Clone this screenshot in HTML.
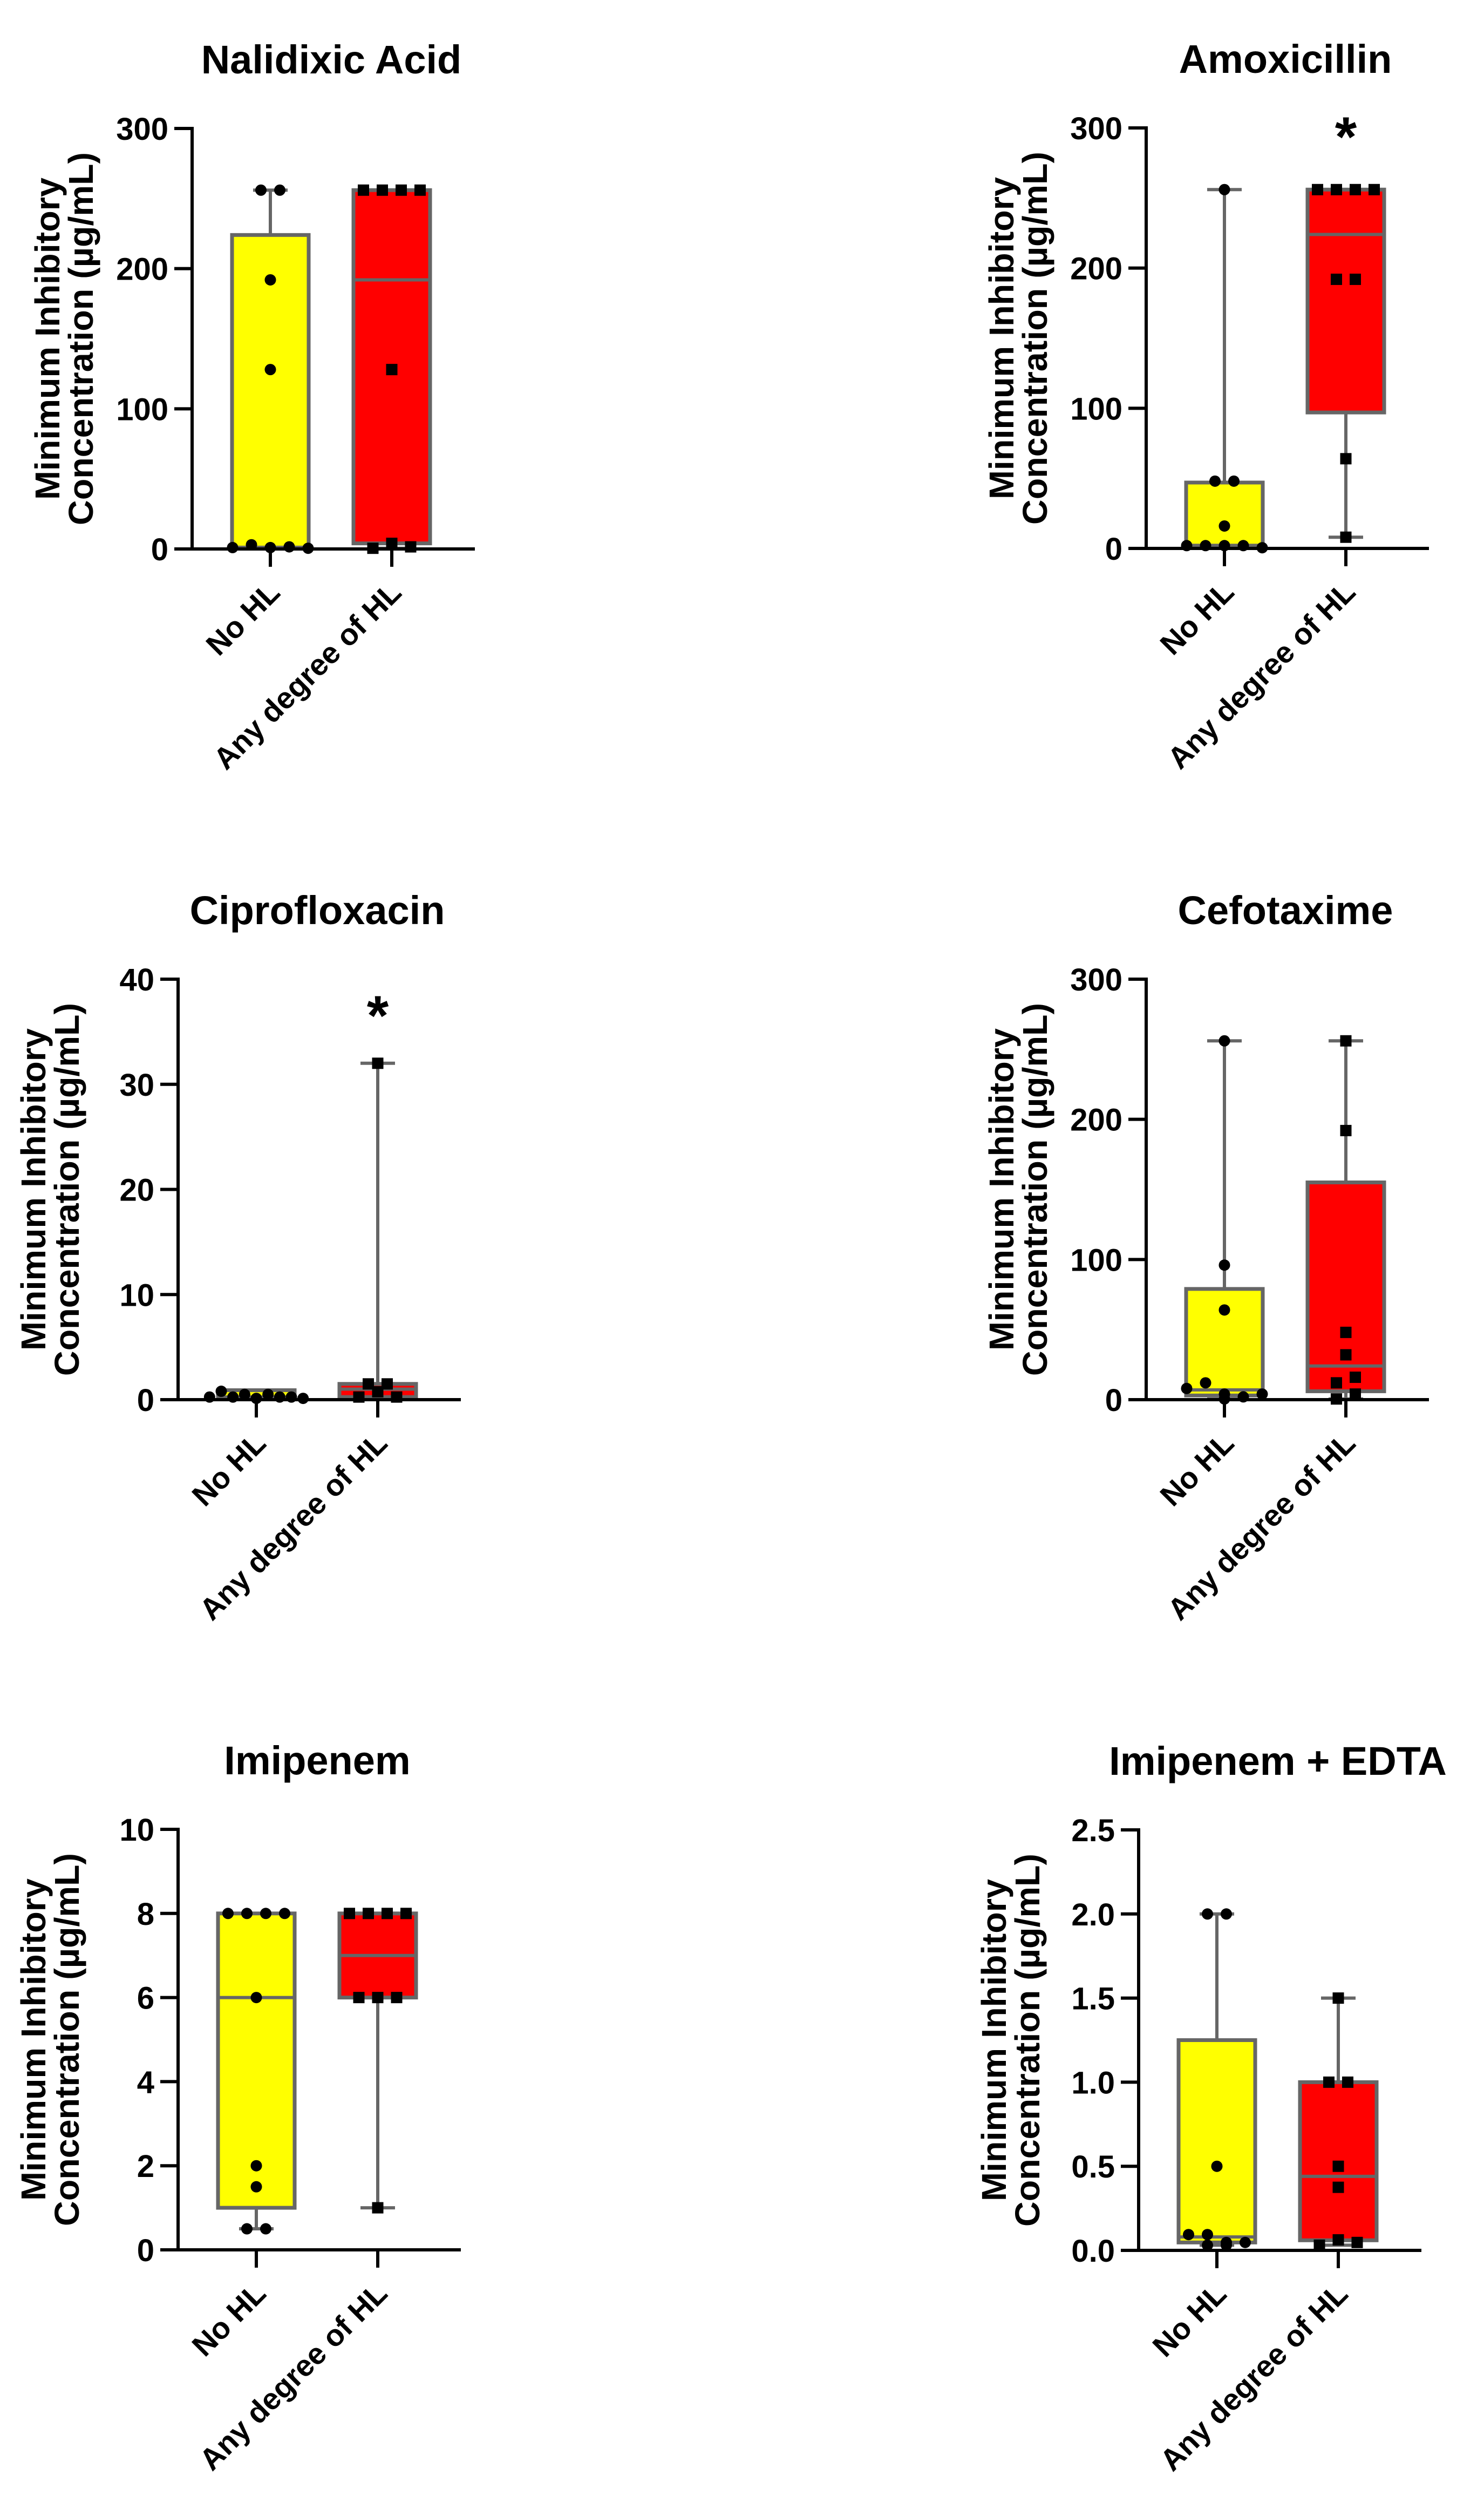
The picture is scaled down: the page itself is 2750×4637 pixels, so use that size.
<!DOCTYPE html>
<html><head><meta charset="utf-8"><style>
html,body{margin:0;padding:0;background:#fff;}
svg{display:block;font-family:"Liberation Sans",Arial,sans-serif;font-weight:bold;}
</style></head><body>
<svg id="fig" width="2750" height="4637" viewBox="0 0 2750 4637" xmlns="http://www.w3.org/2000/svg"></svg>
<script>
// ---- data ----
const categories = ["No HL", "Any degree of HL"];

const nalTicks = [0, 100, 200, 300];
const nalNoHL = [256, 256, 192, 128, 1, 3, 1, 1.5, 0.5];
const nalAnyHL = [256, 256, 256, 256, 128, 0.5, 4, 1.5];
const nalBoxNoHL = [0.5, 1, 1, 224, 256];   // min, q1, median, q3, max
const nalBoxAnyHL = [0.5, 4, 192, 256, 256];

const amoTicks = [0, 100, 200, 300];
const amoNoHL = [256, 48, 48, 16, 2, 2, 2, 2, 0.5];
const amoAnyHL = [256, 256, 256, 256, 192, 192, 64, 8];
const amoBoxNoHL = [0.5, 2, 2, 47, 256];
const amoBoxAnyHL = [8, 97, 224, 256, 256];

const ciproTicks = [0, 10, 20, 30, 40];
const ciproNoHL = [0.25, 0.8, 0.25, 0.5, 0.125, 0.5, 0.25, 0.25, 0.125];
const ciproAnyHL = [32, 0.25, 0.75, 1.5, 1.5, 0.25];
const ciproBoxNoHL = [0.125, 0.2, 0.25, 0.9, 0.8];
const ciproBoxAnyHL = [0.25, 0.25, 1, 1.5, 32];

const cefTicks = [0, 100, 200, 300];
const cefNoHL = [256, 96, 64, 8, 12, 0.5, 4, 2, 4];
const cefAnyHL = [256, 192, 48, 32, 12, 16, 0.5, 4];
const cefBoxNoHL = [0.5, 3, 7, 79, 256];
const cefBoxAnyHL = [0.5, 6, 24, 155, 256];

const imiTicks = [0, 2, 4, 6, 8, 10];
const imiNoHL = [8, 8, 8, 8, 6, 2, 1.5, 0.5, 0.5];
const imiAnyHL = [8, 8, 8, 8, 6, 6, 6, 1];
const imiBoxNoHL = [0.5, 1, 6, 8, 8];
const imiBoxAnyHL = [1, 6, 7, 8, 8];

const edtaTicks = [0, 0.5, 1.0, 1.5, 2.0, 2.5];
const edtaTickLabels = ["0.0", "0.5", "1.0", "1.5", "2.0", "2.5"];
const edtaNoHL = [2, 2, 0.5, 0.094, 0.094, 0.031, 0.047, 0.031, 0.047];
const edtaAnyHL = [1.5, 1, 1, 0.5, 0.375, 0.031, 0.0625, 0.047];
const edtaBoxNoHL = [0.031, 0.047, 0.08, 1.25, 2];
const edtaBoxAnyHL = [0.031, 0.06, 0.44, 1.0, 1.5];

const panels = [
  {id:"nalidixic-acid", title:"Nalidixic Acid", ax:356, top:238, ymax:300, ticks:nalTicks, labels:null, a:nalNoHL, b:nalAnyHL, ba:nalBoxNoHL, bb:nalBoxAnyHL, star:null},
  {id:"amoxicillin", title:"Amoxicillin", ax:2124, top:237, ymax:300, ticks:amoTicks, labels:null, a:amoNoHL, b:amoAnyHL, ba:amoBoxNoHL, bb:amoBoxAnyHL, star:303},
  {id:"ciprofloxacin", title:"Ciprofloxacin", ax:330, top:1814, ymax:40, ticks:ciproTicks, labels:null, a:ciproNoHL, b:ciproAnyHL, ba:ciproBoxNoHL, bb:ciproBoxAnyHL, star:37.8},
  {id:"cefotaxime", title:"Cefotaxime", ax:2124, top:1814, ymax:300, ticks:cefTicks, labels:null, a:cefNoHL, b:cefAnyHL, ba:cefBoxNoHL, bb:cefBoxAnyHL, star:null},
  {id:"imipenem", title:"Imipenem", ax:330, top:3389, ymax:10, ticks:imiTicks, labels:null, a:imiNoHL, b:imiAnyHL, ba:imiBoxNoHL, bb:imiBoxAnyHL, star:null},
  {id:"imipenem-edta", title:"Imipenem + EDTA", ax:2110, top:3390, ymax:2.5, ticks:edtaTicks, labels:edtaTickLabels, a:edtaNoHL, b:edtaAnyHL, ba:edtaBoxNoHL, bb:edtaBoxAnyHL, star:null}
];

// ---- drawing ----
const NS = "http://www.w3.org/2000/svg";
const svg = document.getElementById("fig");
function mk(tag, attrs, parent) {
  const e = document.createElementNS(NS, tag);
  for (const k in attrs) e.setAttribute(k, attrs[k]);
  (parent || svg).appendChild(e);
  return e;
}
const H = 779, W = 524, GREY = "#666666";

panels.forEach(function(p) {
  const g = mk("g", {});
  
  
  const y0 = p.top + H;
  const yS = function(v){ return y0 - v / p.ymax * H; };
  const cx = [p.ax + 145, p.ax + 370];

  const t = mk("text", {x:p.ax + 258, y:p.top - 102, "text-anchor":"middle", "font-size":74}, g);
  t.textContent = p.title;
  
  

  // y title
  const yt = mk("g", {}, g);
  
  
  const cy = p.top + H / 2;
  const l1 = mk("text", {x:p.ax - 246, y:cy, "text-anchor":"middle", "font-size":64, textLength:597, lengthAdjust:"spacingAndGlyphs", transform:"rotate(-90 " + (p.ax - 246) + " " + cy + ")"}, yt);
  l1.textContent = "Minimum Inhibitory";
  const l2 = mk("text", {x:p.ax - 184, y:cy, "text-anchor":"middle", "font-size":64, textLength:691, lengthAdjust:"spacingAndGlyphs", transform:"rotate(-90 " + (p.ax - 184) + " " + cy + ")"}, yt);
  l2.textContent = "Concentration (\u00b5g/mL)";

  // boxes
  [[p.ba, "#ffff00", p.a, "no-hl"], [p.bb, "#ff0000", p.b, "any-hl"]].forEach(function(s, i) {
    const bx = s[0], x = cx[i];
    const wg = mk("g", {}, g);
    
    
    mk("line", {x1:x, x2:x, y1:yS(bx[4]), y2:yS(bx[3]), stroke:GREY, "stroke-width":6}, wg);
    mk("line", {x1:x, x2:x, y1:yS(bx[1]), y2:yS(bx[0]), stroke:GREY, "stroke-width":6}, wg);
    mk("line", {x1:x - 32, x2:x + 32, y1:yS(bx[4]), y2:yS(bx[4]), stroke:GREY, "stroke-width":6}, wg);
    mk("line", {x1:x - 32, x2:x + 32, y1:yS(bx[0]), y2:yS(bx[0]), stroke:GREY, "stroke-width":6}, wg);
    mk("rect", {x:x - 71, y:yS(bx[3]), width:142, height:Math.max(1, yS(bx[1]) - yS(bx[3])), fill:s[1], stroke:GREY, "stroke-width":7}, wg);
    mk("line", {x1:x - 71, x2:x + 71, y1:yS(bx[2]), y2:yS(bx[2]), stroke:GREY, "stroke-width":6}, wg);

    // points, clustered by pixel proximity
    const clusters = [];
    s[2].forEach(function(v) {
      const py = yS(v);
      let c = clusters.find(function(cl){ return Math.abs(cl.y - py) < 16; });
      if (!c) { c = {y:py, pts:[]}; clusters.push(c); }
      c.pts.push(py);
    });
    clusters.forEach(function(cl) {
      const n = cl.pts.length, sp = Math.min(35, 195 / n);
      cl.pts.forEach(function(py, k) {
        const px = x + (k - (n - 1) / 2) * sp;
        let m;
        if (i === 0) m = mk("circle", {cx:px, cy:py, r:10.5, fill:"#000"}, wg);
        else m = mk("rect", {x:px - 10.5, y:py - 10.5, width:21, height:21, fill:"#000"}, wg);
        
        
      });
    });
  });

  // axes
  const ax = mk("g", {}, g);
  
  
  mk("line", {x1:p.ax, x2:p.ax, y1:p.top - 3, y2:y0 + 3, stroke:"#000", "stroke-width":6}, ax);
  mk("line", {x1:p.ax - 3, x2:p.ax + W, y1:y0, y2:y0, stroke:"#000", "stroke-width":6}, ax);
  p.ticks.forEach(function(v, k) {
    const ty = yS(v);
    mk("line", {x1:p.ax - 33, x2:p.ax, y1:ty, y2:ty, stroke:"#000", "stroke-width":6}, ax);
    const tl = mk("text", {x:p.ax - 44, y:ty + 21, "text-anchor":"end", "font-size":58}, ax);
    tl.textContent = p.labels ? p.labels[k] : String(v);
    
    
  });
  categories.forEach(function(c, i) {
    mk("line", {x1:cx[i], x2:cx[i], y1:y0, y2:y0 + 33, stroke:"#000", "stroke-width":6}, ax);
    const ex = cx[i] + 21, ey = y0 + 84;
    const cl = mk("text", {x:ex, y:ey, "text-anchor":"end", "font-size":56, transform:"rotate(-45 " + ex + " " + ey + ")"}, ax);
    cl.textContent = c;
    
    
  });

  if (p.star !== null) {
    const st = mk("text", {x:cx[1], y:yS(p.star) + 60, "text-anchor":"middle", "font-size":104}, g);
    st.textContent = "*";
    
    
  }
});
</script>
</body></html>
